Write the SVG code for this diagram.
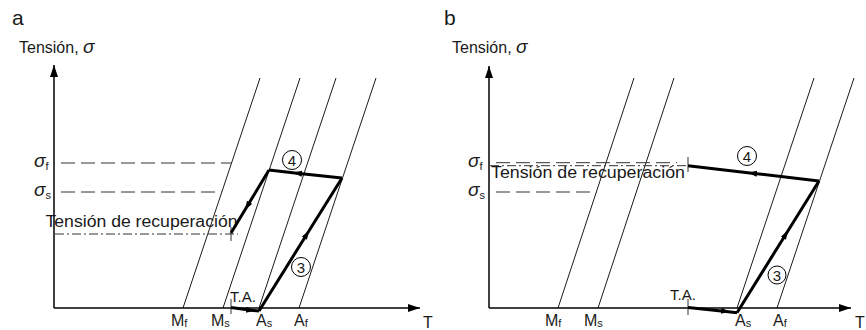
<svg xmlns="http://www.w3.org/2000/svg" width="866" height="330" viewBox="0 0 866 330">
<defs>
<marker id="ah" markerUnits="userSpaceOnUse" markerWidth="14" markerHeight="10" refX="12" refY="4" orient="auto"><path d="M0,0 L12,4 L0,8 Z" fill="#000"/></marker>
<marker id="mid" markerUnits="userSpaceOnUse" markerWidth="12" markerHeight="8" refX="5" refY="3" orient="auto"><path d="M0,0 L9,3 L0,6 Z" fill="#000"/></marker>
<style>
text{font-family:"Liberation Sans",Arial,sans-serif;fill:#1a1a1a}
.ttl{font-size:21px}
.lab{font-size:16px}
.sub{font-size:11px}
.sig{font-style:italic;font-size:19px}
.ta{font-size:15px}
.num{font-size:15px;text-anchor:middle}
.axis{stroke:#000;stroke-width:1.5;fill:none}
.thin{stroke:#000;stroke-width:0.9;fill:none}
.dash{stroke:#333;stroke-width:1;stroke-dasharray:14 6;fill:none}
.dd{stroke:#333;stroke-width:1;stroke-dasharray:9 3 2 3;fill:none}
.tick{stroke:#333;stroke-width:1;fill:none}
.thick{stroke:#000;stroke-width:3;fill:none;marker-mid:url(#mid)}
.circ{stroke:#000;stroke-width:1;fill:#fff}
</style>
</defs>

<!-- Panel a -->
<g id="panel-a">
<text class="ttl" x="12" y="25">a</text>
<g id="a-axes">
<line class="axis" x1="54" y1="308" x2="54" y2="65" marker-end="url(#ah)"/>
<line class="axis" x1="54" y1="308" x2="420" y2="308" marker-end="url(#ah)"/>
<text class="lab" x="19" y="53">Tensión, <tspan class="sig">σ</tspan></text>
<text class="lab" x="423" y="328">T</text>
</g>
<g id="a-lines">
<line class="thin" x1="260" y1="78" x2="183" y2="308"/>
<line class="thin" x1="300" y1="78" x2="223" y2="308"/>
<line class="thin" x1="336" y1="78" x2="259" y2="308"/>
<line class="thin" x1="376" y1="78" x2="299" y2="308"/>
</g>
<g id="a-levels">
<line class="dash" x1="54" y1="163" x2="231.5" y2="163" stroke-dashoffset="-7"/>
<line class="dash" x1="54" y1="192" x2="222" y2="192" stroke-dashoffset="-7"/>
<line class="dd" x1="55" y1="234" x2="238" y2="234"/>
<line class="tick" x1="231" y1="227" x2="231" y2="241"/>
<line class="tick" x1="231" y1="299" x2="231" y2="314"/>
<text x="34" y="167"><tspan class="sig">σ</tspan><tspan class="sub" dy="3">f</tspan></text>
<text x="34" y="196"><tspan class="sig">σ</tspan><tspan class="sub" dy="3">s</tspan></text>
<text class="lab" x="45.5" y="227" textLength="192" lengthAdjust="spacingAndGlyphs">Tensión de recuperación</text>
</g>
<g id="a-temps">
<text x="171" y="326"><tspan class="lab">M</tspan><tspan class="sub" dy="1">f</tspan></text>
<text x="211" y="326"><tspan class="lab">M</tspan><tspan class="sub" dy="1">s</tspan></text>
<text x="256" y="326"><tspan class="lab">A</tspan><tspan class="sub" dy="1">s</tspan></text>
<text x="294" y="326"><tspan class="lab">A</tspan><tspan class="sub" dy="1">f</tspan></text>
<text class="ta" x="230" y="302">T.A.</text>
</g>
<g id="a-path">
<path class="thick" d="M231,307.5 L251,310.3 L259,311"/>
<path class="thick" d="M259,311 L307,234 L342,178"/>
<path class="thick" d="M342,178 L297,173.2 L269,170"/>
<path class="thick" d="M269,170 L247,206.5 L231,233"/>
</g>
<g id="a-step4"><circle class="circ" cx="292" cy="160" r="9.5"/><text class="num" x="292" y="165.5">4</text></g>
<g id="a-step3"><circle class="circ" cx="301" cy="267" r="9.5"/><text class="num" x="301" y="272.5">3</text></g>
</g>

<!-- Panel b -->
<g id="panel-b">
<text class="ttl" x="444" y="25">b</text>
<g id="b-axes">
<line class="axis" x1="489" y1="308" x2="489" y2="66" marker-end="url(#ah)"/>
<line class="axis" x1="489" y1="308" x2="851" y2="308" marker-end="url(#ah)"/>
<text class="lab" x="452" y="53">Tensión, <tspan class="sig">σ</tspan></text>
<text class="lab" x="855" y="328">T</text>
</g>
<g id="b-lines">
<line class="thin" x1="634" y1="78" x2="558" y2="308"/>
<line class="thin" x1="674" y1="78" x2="598" y2="308"/>
<line class="thin" x1="814" y1="78" x2="737" y2="308"/>
<line class="thin" x1="854" y1="78" x2="777" y2="308"/>
</g>
<g id="b-levels">
<line class="dash" x1="489" y1="162.7" x2="677" y2="162.7" stroke-dashoffset="-7"/>
<line class="dd" x1="490" y1="165.7" x2="688" y2="165.7"/>
<line class="dash" x1="489" y1="192" x2="597" y2="192" stroke-dashoffset="-7"/>
<line class="tick" x1="688" y1="157" x2="688" y2="172"/>
<line class="tick" x1="688" y1="299" x2="688" y2="315"/>
<text x="468" y="167"><tspan class="sig">σ</tspan><tspan class="sub" dy="3">f</tspan></text>
<text x="468" y="196"><tspan class="sig">σ</tspan><tspan class="sub" dy="3">s</tspan></text>
<text class="lab" x="491" y="178" textLength="194" lengthAdjust="spacingAndGlyphs">Tensión de recuperación</text>
</g>
<g id="b-temps">
<text x="545" y="326"><tspan class="lab">M</tspan><tspan class="sub" dy="1">f</tspan></text>
<text x="584" y="326"><tspan class="lab">M</tspan><tspan class="sub" dy="1">s</tspan></text>
<text x="735" y="326"><tspan class="lab">A</tspan><tspan class="sub" dy="1">s</tspan></text>
<text x="773" y="326"><tspan class="lab">A</tspan><tspan class="sub" dy="1">f</tspan></text>
<text class="ta" x="670" y="300">T.A.</text>
</g>
<g id="b-path">
<path class="thick" d="M688,307.5 L726,311.4 L737,312.7"/>
<path class="thick" d="M737,312.7 L786,234 L819,181"/>
<path class="thick" d="M819,181 L752,173.2 L688,165.7"/>
</g>
<g id="b-step4"><circle class="circ" cx="747" cy="156" r="9.5"/><text class="num" x="747" y="161.5">4</text></g>
<g id="b-step3"><circle class="circ" cx="777" cy="275" r="9"/><text class="num" x="777" y="280.5">3</text></g>
</g>
</svg>
